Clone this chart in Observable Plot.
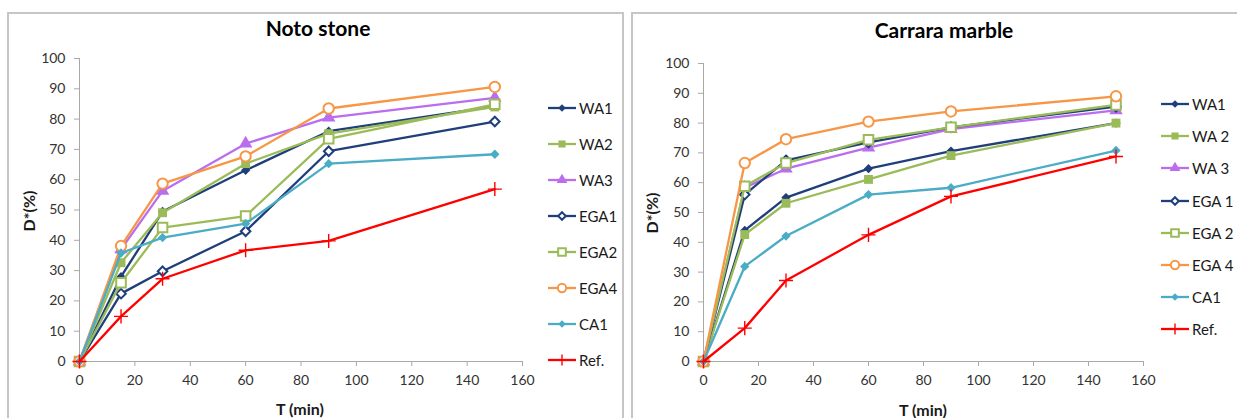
<!DOCTYPE html>
<html>
<head>
<meta charset="utf-8">
<script src="https://cdn.jsdelivr.net/npm/d3@7"></script>
<script src="https://cdn.jsdelivr.net/npm/@observablehq/plot@0.6"></script>
<style>
  html, body { margin: 0; padding: 0; background: #fff; }
  body { width: 1237px; height: 418px; overflow: hidden; position: relative; font-family: Lato, "Open Sans", sans-serif; }
  .panel { position: absolute; border: 2px solid #c6c6c6; box-sizing: border-box; }
  .chart { position: absolute; top: 0; }
  .title { position: absolute; transform: translate(-50%, -50%); font-weight: bold; font-size: 21px; color: #000; white-space: nowrap; }
  .axt { position: absolute; transform: translate(-50%, -50%); font-weight: bold; font-size: 16px; color: #1a1a1a; white-space: nowrap; }
  .axt.rot { transform: translate(-50%, -50%) rotate(-90deg); }
  .leg { position: absolute; display: flex; align-items: center; font-size: 15px; color: #1a1a1a; white-space: nowrap; height: 18px; }
  .leg svg { display: block; margin-right: 2px; }
</style>
</head>
<body>
<div class="panel" style="left:7px; top:12px; width:617px; height:430px;"></div>
<div class="panel" style="left:631px; top:12px; width:640px; height:430px;"></div>
<div id="left" class="chart" style="left:0px;"></div>
<div id="right" class="chart" style="left:620px;"></div>

<script>
// ---------- data ----------
const times = [0, 15, 30, 60, 90, 150];
const xTicks = [0, 20, 40, 60, 80, 100, 120, 140, 160];
const yTicks = [0, 10, 20, 30, 40, 50, 60, 70, 80, 90, 100];

const notoNames = ["WA1", "WA2", "WA3", "EGA1", "EGA2", "EGA4", "CA1", "Ref."];
const notoWA1  = [0, 28.0, 49.5, 63.1, 76.0, 84.2];
const notoWA2  = [0, 32.6, 49.1, 65.3, 75.2, 84.0];
const notoWA3  = [0, 37.0, 56.3, 71.9, 80.5, 87.0];
const notoEGA1 = [0, 22.4, 29.8, 43.0, 69.4, 79.2];
const notoEGA2 = [0, 26.0, 44.2, 48.0, 73.5, 84.9];
const notoEGA4 = [0, 38.1, 58.7, 67.7, 83.5, 90.6];
const notoCA1  = [0, 35.8, 40.9, 45.5, 65.3, 68.4];
const notoRef  = [0, 14.9, 27.3, 36.7, 39.8, 56.9];

const carraraNames = ["WA1", "WA 2", "WA 3", "EGA 1", "EGA 2", "EGA 4", "CA1", "Ref."];
const carWA1  = [0, 44.0, 55.0, 64.7, 70.6, 80.0];
const carWA2  = [0, 42.6, 53.1, 61.1, 69.1, 80.0];
const carWA3  = [0, 58.3, 64.7, 71.8, 78.0, 84.3];
const carEGA1 = [0, 56.0, 67.5, 73.5, 78.6, 85.5];
const carEGA2 = [0, 58.8, 66.6, 74.4, 78.6, 86.1];
const carEGA4 = [0, 66.6, 74.6, 80.5, 83.9, 89.0];
const carCA1  = [0, 31.9, 42.1, 56.0, 58.3, 70.8];
const carRef  = [0, 11.2, 27.2, 42.5, 55.4, 68.8];

// ---------- styles ----------
const NAVY = "#1f3f7c", GREEN = "#9bbb59", PURPLE = "#bb6df0", ORANGE = "#f79646", CYAN = "#4bacc6", RED = "#ff0000";
const styles = [
  {color: NAVY,   symbol: "diamond2", open: false, r: 4.2},
  {color: GREEN,  symbol: "square",   open: false, r: 5},
  {color: PURPLE, symbol: "triangle", open: false, r: 5},
  {color: NAVY,   symbol: "diamond2", open: true,  r: 4.3},
  {color: GREEN,  symbol: "square",   open: true,  r: 5.4},
  {color: ORANGE, symbol: "circle",   open: true,  r: 5.2},
  {color: CYAN,   symbol: "diamond2", open: false, r: 4.2},
  {color: RED,    symbol: "plus",     open: false, r: 4.6}
];

function buildData(names, arrays) {
  return names.map((name, i) => ({
    name,
    style: styles[i],
    rows: times.map((t, j) => ({t, v: arrays[i][j]}))
  }));
}

function chart(series, opts) {
  const marks = [
    Plot.axisX({ticks: xTicks, tickSize: 5, tickPadding: 9, fontSize: 14, stroke: "#a8a8a8", label: null, tickFormat: d => d}),
    Plot.axisY({ticks: yTicks, tickSize: 5, tickPadding: 9, fontSize: 14, stroke: "#a8a8a8", label: null, tickFormat: d => d}),
    Plot.ruleY([0], {stroke: "#a8a8a8", strokeWidth: 1}),
    Plot.ruleX([0], {stroke: "#a8a8a8", strokeWidth: 1})
  ];
  for (const s of series) {
    const st = s.style;
    marks.push(Plot.line(s.rows, {x: "t", y: "v", stroke: st.color, strokeWidth: 2.3}));
    if (st.symbol === "plus") {
      marks.push(Plot.dot(s.rows, {x: "t", y: "v", symbol: "plus", stroke: st.color, strokeWidth: 1.4, r: st.r}));
    } else if (st.open) {
      marks.push(Plot.dot(s.rows, {x: "t", y: "v", symbol: st.symbol, fill: "#fff", stroke: st.color, strokeWidth: 2, r: st.r}));
    } else {
      marks.push(Plot.dot(s.rows, {x: "t", y: "v", symbol: st.symbol, fill: st.color, stroke: "none", r: st.r}));
    }
  }
  return Plot.plot({
    width: opts.width, height: 418,
    marginLeft: opts.ml, marginRight: opts.mr, marginTop: opts.mt, marginBottom: opts.mb,
    x: {domain: [0, 160]},
    y: {domain: [0, 100]},
    style: {background: "transparent", color: "#333333", fontFamily: "Lato, sans-serif", overflow: "visible"},
    marks
  });
}

const notoSeries = buildData(notoNames, [notoWA1, notoWA2, notoWA3, notoEGA1, notoEGA2, notoEGA4, notoCA1, notoRef]);
const carSeries = buildData(carraraNames, [carWA1, carWA2, carWA3, carEGA1, carEGA2, carEGA4, carCA1, carRef]);

document.getElementById("left").appendChild(chart(notoSeries, {width: 620, ml: 79, mr: 98, mt: 58, mb: 57}));
document.getElementById("right").appendChild(chart(carSeries, {width: 617, ml: 83, mr: 94, mt: 63, mb: 57}));

// ---------- titles ----------
function addText(cls, text, x, y) {
  const d = document.createElement("div");
  d.className = cls;
  d.textContent = text;
  d.style.left = x + "px";
  d.style.top = y + "px";
  document.body.appendChild(d);
}
addText("title", "Noto stone", 318, 27);
addText("title", "Carrara marble", 944, 29);
addText("axt rot", "D*(%)", 28, 211);
addText("axt rot", "D*(%)", 651, 213);
addText("axt", "T (min)", 300, 408);
addText("axt", "T (min)", 923, 409);

// ---------- legends ----------
const symbolMap = {diamond2: d3.symbolDiamond2, square: d3.symbolSquare, triangle: d3.symbolTriangle, circle: d3.symbolCircle, plus: d3.symbolPlus};
function legend(series, x, y0, step) {
  series.forEach((s, i) => {
    const st = s.style;
    const d = document.createElement("div");
    d.className = "leg";
    d.style.left = x + "px";
    d.style.top = (y0 + i * step - 9) + "px";
    const svg = d3.create("svg").attr("width", 29).attr("height", 18);
    svg.append("line").attr("x1", 0).attr("x2", 28).attr("y1", 9).attr("y2", 9).attr("stroke", st.color).attr("stroke-width", 2.3);
    const size = Math.PI * (st.r * 0.8) ** 2;
    const p = svg.append("path").attr("transform", "translate(14,9)").attr("d", d3.symbol(symbolMap[st.symbol], size)());
    if (st.symbol === "plus") p.attr("fill", "none").attr("stroke", st.color).attr("stroke-width", 1.4);
    else if (st.open) p.attr("fill", "#fff").attr("stroke", st.color).attr("stroke-width", 2);
    else p.attr("fill", st.color);
    d.appendChild(svg.node());
    const sp = document.createElement("span");
    sp.textContent = s.name;
    d.appendChild(sp);
    document.body.appendChild(d);
  });
}
legend(notoSeries, 548, 108, 36);
legend(carSeries, 1161, 104, 32.2);
</script>
</body>
</html>
